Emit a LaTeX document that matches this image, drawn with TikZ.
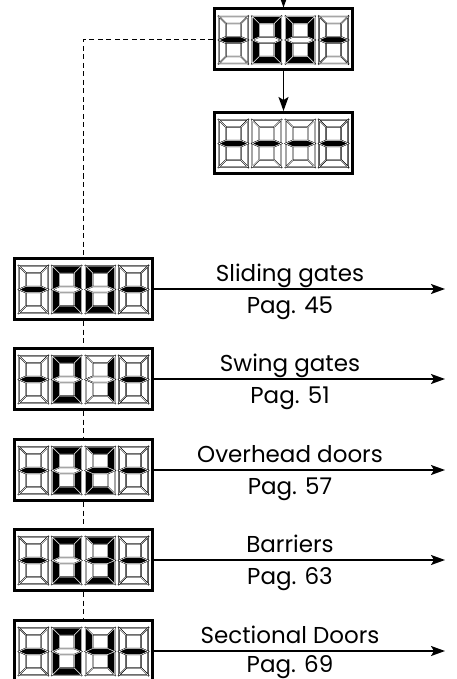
\documentclass[tikz,border=0pt]{standalone}
\usepackage{fontspec}
\setmainfont{Poppins}
\usetikzlibrary{arrows.meta}
\colorlet{sOn}{black}
\colorlet{sOff}{white}
\tikzset{seg/.style={draw=black,line width=0.4pt,double=white,double distance=0.5pt,line join=miter}}
\newcommand{\sevsegs}[7]{%
 \path[seg,fill=#1] (-14.5,-23.5)--(14.5,-23.5)--(7.5,-16.5)--(-7.5,-16.5)--cycle;
 \path[seg,fill=#2] (14.5,-23.5)--(14.5,0)--(7.5,-3)--(7.5,-16.5)--cycle;
 \path[seg,fill=#3] (14.5,0)--(14.5,23.5)--(7.5,16.5)--(7.5,3)--cycle;
 \path[seg,fill=#4] (-14.5,23.5)--(14.5,23.5)--(7.5,16.5)--(-7.5,16.5)--cycle;
 \path[seg,fill=#5] (-14.5,0)--(-7.5,3)--(-7.5,16.5)--(-14.5,23.5)--cycle;
 \path[seg,fill=#6] (-14.5,-23.5)--(-7.5,-16.5)--(-7.5,-3)--(-14.5,0)--cycle;
 \path[seg,fill=#7] (-14.5,0)--(-7.5,-3)--(7.5,-3)--(14.5,0)--(7.5,3)--(-7.5,3)--cycle;
}
\newcommand{\DgDash}{\sevsegs{sOff}{sOff}{sOff}{sOff}{sOff}{sOff}{sOn}}
\newcommand{\DgZero}{\sevsegs{sOn}{sOn}{sOn}{sOn}{sOn}{sOn}{sOff}}
\newcommand{\DgOne}{\sevsegs{sOff}{sOn}{sOn}{sOff}{sOff}{sOff}{sOff}}
\newcommand{\DgTwo}{\sevsegs{sOn}{sOn}{sOff}{sOn}{sOn}{sOff}{sOn}}
\newcommand{\DgThree}{\sevsegs{sOn}{sOn}{sOn}{sOn}{sOff}{sOff}{sOn}}
\newcommand{\DgFour}{\sevsegs{sOff}{sOn}{sOn}{sOff}{sOff}{sOn}{sOn}}
\newcommand{\showdisp}[5]{%
 \begin{scope}[shift={(#1.center)}]
  \begin{scope}[shift={(-50.1,0.5)}]#2\end{scope}
  \begin{scope}[shift={(-16.7,0.5)}]#3\end{scope}
  \begin{scope}[shift={(16.7,0.5)}]#4\end{scope}
  \begin{scope}[shift={(50.1,0.5)}]#5\end{scope}
 \end{scope}}
\begin{document}
\begin{tikzpicture}[x=1pt,y=-1pt,
 dispbox/.style={draw,line width=3pt,fill=white,minimum width=138pt,minimum height=61pt,inner sep=0pt},
 arr/.style={line width=1.7pt,-{Stealth[length=14pt,width=10pt,inset=3pt]}},
 dashlink/.style={line width=1pt,dash pattern=on 5pt off 3.5pt},
 lab/.style={anchor=base,inner sep=0pt,font=\fontsize{23}{27}\selectfont}]
\useasboundingbox (0,0) rectangle (456,679);
\coordinate (top) at (283.5,-5);
\node[dispbox] (A) at (283.5,39.5) {};
\node[dispbox] (B) at (283.5,143) {};
\node[dispbox] (L1) at (83.5,289) {};
\node[dispbox] (L2) at (83.5,379) {};
\node[dispbox] (L3) at (83.5,470) {};
\node[dispbox] (L4) at (83.5,560) {};
\node[dispbox] (L5) at (83.5,651) {};
\showdisp{A}{\DgDash}{\DgZero}{\DgZero}{\DgDash}
\showdisp{B}{\DgDash}{\DgDash}{\DgDash}{\DgDash}
\showdisp{L1}{\DgDash}{\DgZero}{\DgZero}{\DgDash}
\showdisp{L2}{\DgDash}{\DgZero}{\DgOne}{\DgDash}
\showdisp{L3}{\DgDash}{\DgZero}{\DgTwo}{\DgDash}
\showdisp{L4}{\DgDash}{\DgZero}{\DgThree}{\DgDash}
\showdisp{L5}{\DgDash}{\DgZero}{\DgFour}{\DgDash}
\draw[arr] (top) -- (A.north);
\draw[arr] (A.south) -- (B.north);
\draw[dashlink] (A.west) -| (L1.north);
\draw[dashlink] (L1.south) -- (L2.north);
\draw[dashlink] (L2.south) -- (L3.north);
\draw[dashlink] (L3.south) -- (L4.north);
\draw[dashlink] (L4.south) -- (L5.north);
\coordinate (e1) at (445,289);
\coordinate (e2) at (445,379);
\coordinate (e3) at (445,470);
\coordinate (e4) at (445,560);
\coordinate (e5) at (445,651);
\draw[arr] (L1.east) -- (e1);
\draw[arr] (L2.east) -- (e2);
\draw[arr] (L3.east) -- (e3);
\draw[arr] (L4.east) -- (e4);
\draw[arr] (L5.east) -- (e5);
\node[lab] (t1) at (290,281) {Sliding gates};
\node[lab] (p1) at (290,313) {Pag. 45};
\node[lab] (t2) at (290,371) {Swing gates};
\node[lab] (p2) at (290,403) {Pag. 51};
\node[lab] (t3) at (290,462) {Overhead doors};
\node[lab] (p3) at (290,494) {Pag. 57};
\node[lab] (t4) at (290,552) {Barriers};
\node[lab] (p4) at (290,584) {Pag. 63};
\node[lab] (t5) at (290,643) {Sectional Doors};
\node[lab] (p5) at (290,672) {Pag. 69};
\end{tikzpicture}
\end{document}
